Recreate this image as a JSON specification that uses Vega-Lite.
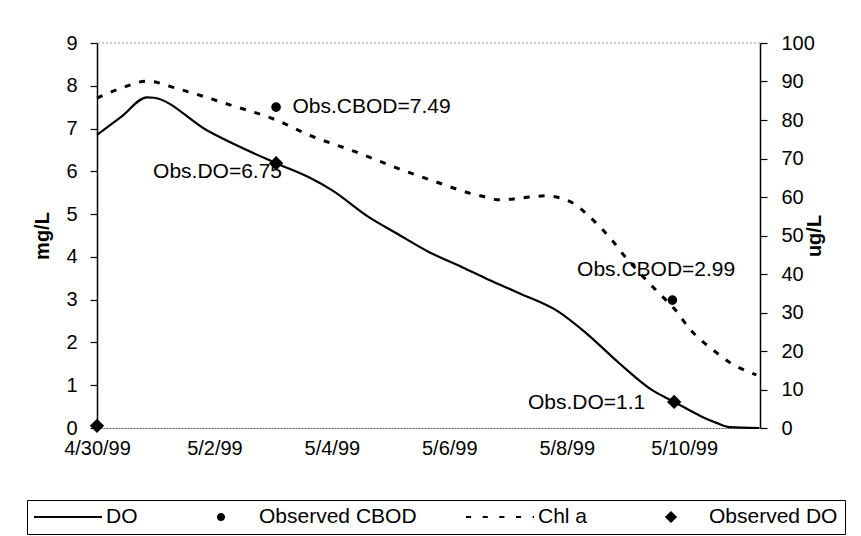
{
  "$schema": "https://vega.github.io/schema/vega-lite/v6.json",
  "width": 663,
  "height": 385,
  "autosize": "none",
  "padding": {"left": 97, "top": 43, "right": 101, "bottom": 108},
  "background": "white",
  "config": {
    "font": "Liberation Sans",
    "view": {"stroke": null},
    "axis": {"labelFont": "Liberation Sans", "labelFontSize": 20, "labelColor": "black", "titleFont": "Liberation Sans", "titleColor": "black", "grid": false},
    "legend": {"labelFont": "Liberation Sans", "labelFontSize": 21, "labelColor": "black"}
  },
  "datasets": {
    "do": [
      {"date": "1999-04-30T00:00", "value": 6.85},
      {"date": "1999-04-30T10:00", "value": 7.28},
      {"date": "1999-04-30T20:24", "value": 7.73},
      {"date": "1999-04-30T23:17", "value": 7.72},
      {"date": "1999-05-01T20:53", "value": 6.96},
      {"date": "1999-05-03T01:12", "value": 6.19},
      {"date": "1999-05-03T14:38", "value": 5.86},
      {"date": "1999-05-04T00:00", "value": 5.56},
      {"date": "1999-05-04T15:07", "value": 4.93},
      {"date": "1999-05-05T02:10", "value": 4.56},
      {"date": "1999-05-05T15:50", "value": 4.11},
      {"date": "1999-05-06T05:17", "value": 3.76},
      {"date": "1999-05-06T16:19", "value": 3.46},
      {"date": "1999-05-07T04:34", "value": 3.15},
      {"date": "1999-05-07T20:53", "value": 2.71},
      {"date": "1999-05-08T07:55", "value": 2.22},
      {"date": "1999-05-08T21:22", "value": 1.52},
      {"date": "1999-05-09T10:48", "value": 0.89},
      {"date": "1999-05-09T19:55", "value": 0.61},
      {"date": "1999-05-10T07:26", "value": 0.26},
      {"date": "1999-05-10T13:12", "value": 0.12},
      {"date": "1999-05-10T18:29", "value": 0.02},
      {"date": "1999-05-11T06:43", "value": 0.0}
    ],
    "chla": [
      {"date": "1999-04-30T00:00", "value": 85.7},
      {"date": "1999-04-30T10:05", "value": 88.3},
      {"date": "1999-04-30T20:24", "value": 90.1},
      {"date": "1999-05-01T09:36", "value": 88.0},
      {"date": "1999-05-02T06:00", "value": 84.0},
      {"date": "1999-05-03T01:12", "value": 80.0},
      {"date": "1999-05-03T14:38", "value": 76.1},
      {"date": "1999-05-04T09:50", "value": 71.7},
      {"date": "1999-05-05T04:48", "value": 67.0},
      {"date": "1999-05-05T18:43", "value": 63.9},
      {"date": "1999-05-06T06:43", "value": 61.3},
      {"date": "1999-05-06T13:26", "value": 60.2},
      {"date": "1999-05-06T19:41", "value": 59.3},
      {"date": "1999-05-07T02:24", "value": 59.5},
      {"date": "1999-05-07T08:38", "value": 60.0},
      {"date": "1999-05-07T15:36", "value": 60.3},
      {"date": "1999-05-07T21:36", "value": 59.7},
      {"date": "1999-05-08T03:50", "value": 57.9},
      {"date": "1999-05-08T09:07", "value": 55.0},
      {"date": "1999-05-08T13:55", "value": 52.0},
      {"date": "1999-05-08T18:29", "value": 48.8},
      {"date": "1999-05-08T22:34", "value": 45.5},
      {"date": "1999-05-09T12:29", "value": 35.8},
      {"date": "1999-05-09T20:38", "value": 30.5},
      {"date": "1999-05-10T01:55", "value": 26.0},
      {"date": "1999-05-10T12:58", "value": 19.7},
      {"date": "1999-05-10T18:29", "value": 17.1},
      {"date": "1999-05-11T05:31", "value": 13.8}
    ],
    "obs": [
      {"date": "1999-05-03T01:12", "value": 7.5, "series": "Observed CBOD"},
      {"date": "1999-05-09T19:12", "value": 2.99, "series": "Observed CBOD"},
      {"date": "1999-04-30T00:00", "value": 0.05, "series": "Observed DO"},
      {"date": "1999-05-03T01:12", "value": 6.19, "series": "Observed DO"},
      {"date": "1999-05-09T19:55", "value": 0.61, "series": "Observed DO"}
    ],
    "notes": [
      {"date": "1999-05-04T16:14", "value": 7.5, "label": "Obs.CBOD=7.49"},
      {"date": "1999-05-02T01:16", "value": 5.98, "label": "Obs.DO=6.75"},
      {"date": "1999-05-09T12:33", "value": 3.69, "label": "Obs.CBOD=2.99"},
      {"date": "1999-05-08T08:08", "value": 0.58, "label": "Obs.DO=1.1"}
    ]
  },
  "layer": [
    {
      "layer": [
        {
          "data": {"values": [{"top": 9}]},
          "mark": {"type": "rule", "color": "#999999", "strokeDash": [2, 2], "strokeWidth": 1},
          "encoding": {
            "y": {"field": "top", "type": "quantitative", "scale": {"domain": [0, 9], "nice": false}}
          }
        },
        {
          "data": {"name": "do"},
          "mark": {"type": "line", "color": "black", "strokeWidth": 2.2, "interpolate": "monotone"},
          "encoding": {
            "x": {
              "field": "date", "type": "temporal",
              "scale": {"domain": [{"year": 1999, "month": 4, "date": 30}, {"year": 1999, "month": 5, "date": 11, "hours": 7}]},
              "axis": {
                "title": null,
                "format": "%-m/%-d/%y",
                "values": [
                  {"year": 1999, "month": 4, "date": 30},
                  {"year": 1999, "month": 5, "date": 2},
                  {"year": 1999, "month": 5, "date": 4},
                  {"year": 1999, "month": 5, "date": 6},
                  {"year": 1999, "month": 5, "date": 8},
                  {"year": 1999, "month": 5, "date": 10}
                ],
                "ticks": false,
                "labelPadding": 10,
                "labelFlush": false,
                "labelOverlap": false,
                "domainColor": "#555555",
                "domainDash": [2, 1],
                "domainWidth": 1.2
              }
            },
            "y": {
              "field": "value", "type": "quantitative",
              "scale": {"domain": [0, 9], "nice": false},
              "axis": {
                "title": "mg/L", "titleFontSize": 20, "titleFontWeight": "bold", "titlePadding": 13,
                "values": [0, 1, 2, 3, 4, 5, 6, 7, 8, 9],
                "tickSize": 7, "tickColor": "black", "tickWidth": 1.2,
                "domainColor": "black", "domainWidth": 1.5,
                "labelPadding": 13
              }
            }
          }
        },
        {
          "data": {"name": "obs"},
          "mark": {"type": "point", "filled": true, "fill": "black", "stroke": "black", "strokeWidth": 1.5, "opacity": 1, "size": 4624},
          "encoding": {
            "x": {"field": "date", "type": "temporal", "scale": {"domain": [{"year": 1999, "month": 4, "date": 30}, {"year": 1999, "month": 5, "date": 11, "hours": 7}]}},
            "y": {"field": "value", "type": "quantitative"},
            "shape": {
              "field": "series", "type": "nominal",
              "scale": {
                "domain": ["DO", "Observed CBOD", "Chl a", "Observed DO"],
                "range": [
                  "M-1,-0.03H1V0.03H-1Z",
                  "M-1,0L-1,0M0.12,0A0.12,0.12,0,1,1,-0.12,0A0.12,0.12,0,1,1,0.12,0ZM1,0L1,0",
                  "M-1,-0.03H-0.85V0.03H-1ZM-0.51,-0.03H-0.36V0.03H-0.51ZM-0.02,-0.03H0.13V0.03H-0.02ZM0.47,-0.03H0.62V0.03H0.47ZM0.96,-0.03H1V0.03H0.96Z",
                  "M-1,0L-1,0M0,-0.18L0.18,0L0,0.18L-0.18,0ZM1,0L1,0"
                ]
              },
              "legend": {
                "title": null,
                "orient": "none",
                "legendX": -70,
                "legendY": 457,
                "direction": "horizontal",
                "columns": 4,
                "columnPadding": 49,
                "symbolSize": 4624,
                "clipHeight": 20,
                "symbolStrokeColor": "black",
                "symbolFillColor": "black",
                "symbolStrokeWidth": 0,
                "labelOffset": 4,
                "labelFontSize": 21,
                "strokeColor": "black",
                "padding": 7,
                "fillColor": "white"
              }
            }
          }
        },
        {
          "data": {"name": "notes"},
          "mark": {"type": "text", "align": "center", "baseline": "middle", "fontSize": 21, "font": "Liberation Sans", "color": "black"},
          "encoding": {
            "x": {"field": "date", "type": "temporal", "scale": {"domain": [{"year": 1999, "month": 4, "date": 30}, {"year": 1999, "month": 5, "date": 11, "hours": 7}]}},
            "y": {"field": "value", "type": "quantitative"},
            "text": {"field": "label"}
          }
        }
      ]
    },
    {
      "data": {"name": "chla"},
      "mark": {"type": "line", "color": "black", "strokeWidth": 3, "strokeDash": [6, 9], "interpolate": "monotone"},
      "encoding": {
        "x": {"field": "date", "type": "temporal", "scale": {"domain": [{"year": 1999, "month": 4, "date": 30}, {"year": 1999, "month": 5, "date": 11, "hours": 7}]}},
        "y": {
          "field": "value", "type": "quantitative",
          "scale": {"domain": [0, 100], "nice": false},
          "axis": {
            "orient": "right",
            "title": "ug/L", "titleFontSize": 20, "titleFontWeight": "bold", "titleAngle": 270, "titlePadding": 10,
            "values": [0, 10, 20, 30, 40, 50, 60, 70, 80, 90, 100],
            "tickSize": 7, "tickColor": "black", "tickWidth": 1.2,
            "domainColor": "black", "domainWidth": 1.5,
            "labelPadding": 14
          }
        }
      }
    }
  ],
  "resolve": {"scale": {"y": "independent"}}
}
